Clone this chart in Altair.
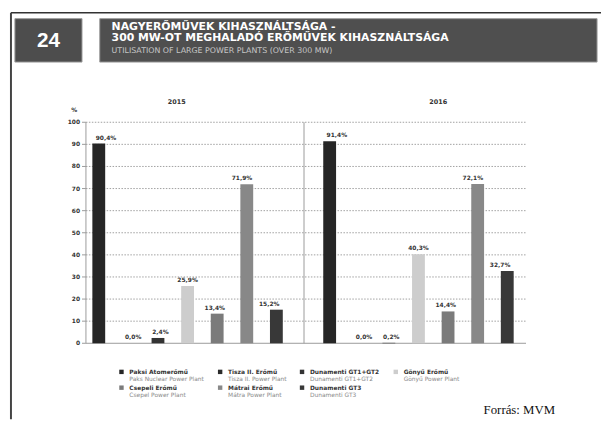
import altair as alt
import pandas as pd

# ---------------- data ----------------
plants = ["Paksi Atomerőmű", "Tisza II. Erőmű", "Dunamenti GT1+GT2", "Gönyű Erőmű",
          "Csepeli Erőmű", "Mátrai Erőmű", "Dunamenti GT3"]
plants_en = ["Paks Nuclear Power Plant", "Tisza II. Power Plant", "Dunamenti GT1+GT2",
             "Gönyű Power Plant", "Csepel Power Plant", "Mátra Power Plant", "Dunamenti GT3"]
values_2015 = [90.4, 0.0, 2.4, 25.9, 13.4, 71.9, 15.2]
values_2016 = [91.4, 0.0, 0.2, 40.3, 14.4, 72.1, 32.7]
bar_colors = ["#262626", "#2b2b2b", "#333333", "#cdcdcd", "#7b7b7b", "#888888", "#383838"]
years = ["2015", "2016"]
y_ticks = [0, 10, 20, 30, 40, 50, 60, 70, 80, 90, 100]

title_num = "24"
title_line1 = "NAGYERŐMŰVEK KIHASZNÁLTSÁGA -"
title_line2 = "300 MW-OT MEGHALADÓ ERŐMŰVEK KIHASZNÁLTSÁGA"
title_line3 = "UTILISATION OF LARGE POWER PLANTS (OVER 300 MW)"
source = "Forrás: MVM"


def fmt(v):
    return f"{v:.1f}".replace(".", ",") + "%"


df15 = pd.DataFrame({"plant": plants, "value": values_2015, "label": [fmt(v) for v in values_2015]})
df16 = pd.DataFrame({"plant": plants, "value": values_2016, "label": [fmt(v) for v in values_2016]})
dfticks = pd.DataFrame({"t": y_ticks, "lab": [str(t) for t in y_ticks]})
dfleg = pd.DataFrame({"plant": plants, "en": plants_en,
                      "col": [i % 4 for i in range(len(plants))],
                      "row": [i // 4 for i in range(len(plants))]})

# ---------------- layout ----------------
W, H = 601, 414
Y0, Y100 = 337, 113
AX_L, AX_M, AX_R = 79, 300, 525
STEP, BAR = 30, 13
FONT = "DejaVu Sans"

yscale = alt.Scale(domain=[0, 100], range=[Y0, Y100])
cscale = alt.Scale(domain=plants, range=bar_colors)


def xscale(r0):
    return alt.Scale(domain=plants, range=[r0, r0 + STEP * (len(plants) - (STEP - BAR) / STEP)],
                     paddingInner=(STEP - BAR) / STEP, paddingOuter=0)


one = alt.Data(values=[{"a": 1}])


def rect(x1, x2, y1, y2, fill, stroke="#9a9a9a"):
    return alt.Chart(one).mark_rect(fill=fill, stroke=stroke, strokeWidth=1).encode(
        x=alt.value(x1), x2=alt.value(x2), y=alt.value(y1), y2=alt.value(y2))


def rule(x1, x2, y1, y2, color, width=1.0):
    return alt.Chart(one).mark_rule(color=color, strokeWidth=width).encode(
        x=alt.value(x1), x2=alt.value(x2), y=alt.value(y1), y2=alt.value(y2))


def label(x, y, text, **kw):
    return alt.Chart(one).mark_text(text=text, **kw).encode(x=alt.value(x), y=alt.value(y))


def panel(df, r0):
    xs = xscale(r0)
    base = alt.Chart(df)
    b = base.mark_bar().encode(
        x=alt.X("plant:N", scale=xs, axis=None),
        y=alt.Y("value:Q", scale=yscale, axis=None),
        color=alt.Color("plant:N", scale=cscale, legend=None))
    t = base.mark_text(baseline="bottom", dy=-3, fontSize=6, fontWeight="bold",
                       font=FONT, color="#333333").encode(
        x=alt.X("plant:N", scale=xs, axis=None),
        y=alt.Y("value:Q", scale=yscale, axis=None),
        text="label:N")
    return [b, t]


grid = alt.Chart(dfticks[dfticks.t > 0]).mark_rule(
    color="#a0a0a0", strokeDash=[1.5, 1.5], strokeWidth=1).encode(
    y=alt.Y("t:Q", scale=yscale, axis=None), x=alt.value(AX_L), x2=alt.value(AX_R))
zero = alt.Chart(dfticks[dfticks.t == 0]).mark_rule(color="#9a9a9a", strokeWidth=1).encode(
    y=alt.Y("t:Q", scale=yscale, axis=None), x=alt.value(AX_L), x2=alt.value(AX_R))
ticks = alt.Chart(dfticks).mark_rule(color="#9a9a9a", strokeWidth=1).encode(
    y=alt.Y("t:Q", scale=yscale, axis=None), x=alt.value(AX_L - 4), x2=alt.value(AX_L))
tick_labels = alt.Chart(dfticks).mark_text(
    align="right", baseline="middle", fontSize=6, fontWeight="bold", font=FONT,
    color="#333333").encode(y=alt.Y("t:Q", scale=yscale, axis=None), x=alt.value(AX_L - 6),
                            text="lab:N")

leg_x = alt.Scale(domain=[0, 1, 2, 3], range=[115, 215, 298, 393])
leg_y = alt.Scale(domain=[0, 1], range=[366, 382])
leg_sq = alt.Chart(dfleg).mark_square(size=20, opacity=1).encode(
    x=alt.X("col:Q", scale=leg_x, axis=None), y=alt.Y("row:Q", scale=leg_y, axis=None),
    color=alt.Color("plant:N", scale=cscale, legend=None))
leg_name = alt.Chart(dfleg).mark_text(
    align="left", baseline="middle", dx=8, fontSize=6, fontWeight="bold", font=FONT,
    color="#333333").encode(
    x=alt.X("col:Q", scale=leg_x, axis=None), y=alt.Y("row:Q", scale=leg_y, axis=None),
    text="plant:N")
leg_en = alt.Chart(dfleg).mark_text(
    align="left", baseline="middle", dx=8, dy=7, fontSize=6, font=FONT,
    color="#8a8a8a").encode(
    x=alt.X("col:Q", scale=leg_x, axis=None), y=alt.Y("row:Q", scale=leg_y, axis=None),
    text="en:N")

layers = [
    # frame
    rule(3, W, 2, 2, "#333333", 1.5),
    rule(3, 3, 2, H, "#444444", 2),
    # header
    rect(7, 75, 8, 52, "#4d4d4d"),
    rect(93, 597, 8, 52, "#4f4f4f"),
    label(41, 31, title_num, fontSize=21, fontWeight="bold", font="Liberation Sans",
          color="white", align="center", baseline="middle"),
    label(105, 16, title_line1, fontSize=11, fontWeight="bold", font=FONT,
          color="white", align="left", baseline="middle"),
    label(105, 28, title_line2, fontSize=11, fontWeight="bold", font=FONT,
          color="white", align="left", baseline="middle"),
    label(105, 41, title_line3, fontSize=8, font=FONT,
          color="#c4c4c4", align="left", baseline="middle"),
    # plot furniture
    grid, zero, ticks, tick_labels,
    rule(AX_L, AX_L, Y100, Y0, "#9a9a9a", 1),
    rule(AX_M, AX_M, Y100, Y0, "#9a9a9a", 1),
    label(67, 101, "%", fontSize=6, fontWeight="bold", font=FONT, color="#333333",
          align="center", baseline="middle"),
    label(171, 92, years[0], fontSize=6.5, fontWeight="bold", font=FONT, color="#333333",
          align="center", baseline="middle"),
    label(436, 92, years[1], fontSize=6.5, fontWeight="bold", font=FONT, color="#333333",
          align="center", baseline="middle"),
]
layers += panel(df15, 85.5)
layers += panel(df16, 319.5)
layers += [leg_sq, leg_name, leg_en,
           label(482, 409, source, fontSize=13, font="Liberation Serif", color="#111111",
                 align="left", baseline="alphabetic")]

chart = alt.layer(*layers).resolve_scale(x="independent", y="independent").properties(
    width=W, height=H, padding=0, autosize=alt.AutoSizeParams(type="none"),
    background="white").configure_view(stroke=None)

chart.save("out.html", embed_options={"renderer": "svg", "actions": False})
